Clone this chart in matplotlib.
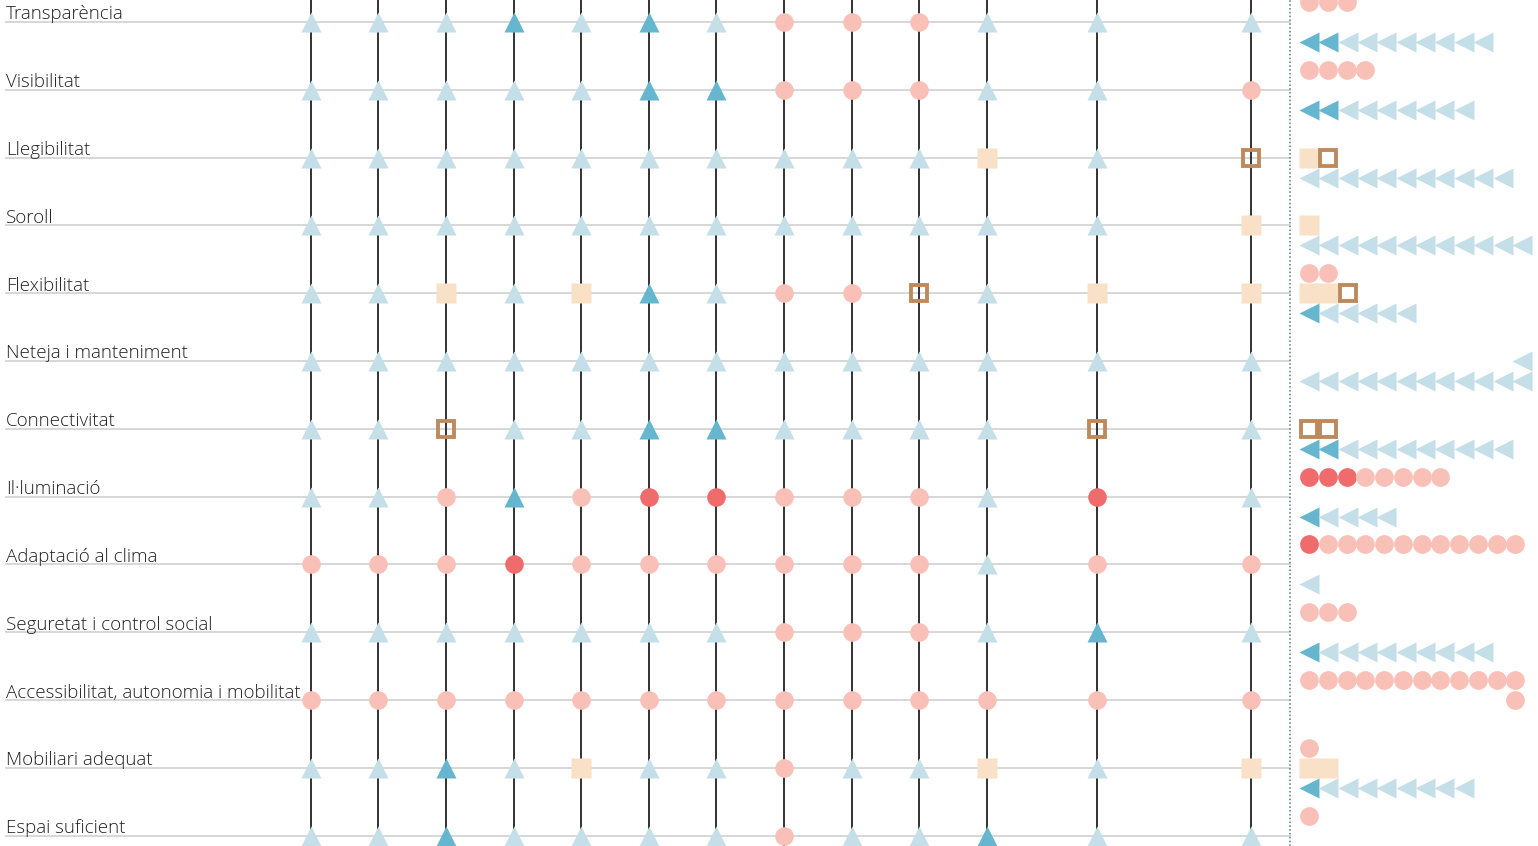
import matplotlib.pyplot as plt

# criteria (rows)
labels = ['Transparència', 'Visibilitat', 'Llegibilitat', 'Soroll', 'Flexibilitat',
          'Neteja i manteniment', 'Connectivitat', 'Il·luminació', 'Adaptació al clima',
          'Seguretat i control social', 'Accessibilitat, autonomia i mobilitat',
          'Mobiliari adequat', 'Espai suficient']

# one code per column:  a = light triangle, A = dark triangle, c = pink circle,
# C = red circle, s = beige square, h = hollow square
grid = ['aaaAaAacccaaa',
        'aaaaaAAcccaac',
        'aaaaaaaaaasah',
        'aaaaaaaaaaaas',
        'aasasAacchass',
        'aaaaaaaaaaaaa',
        'aahaaAAaaaaha',
        'aacAcCCcccaCa',
        'cccCccccccacc',
        'aaaaaaacccaAa',
        'ccccccccccccc',
        'aaAasaacaasas',
        'aaAaaaacaaAaa']

# summary counts on the right
sum_red    = [0, 0, 0, 0, 0, 0, 0, 3, 1, 0, 0, 0, 0]
sum_pink   = [3, 4, 0, 0, 2, 0, 0, 5, 11, 3, 13, 1, 1]
sum_beige  = [0, 0, 1, 1, 2, 0, 0, 0, 0, 0, 0, 2, 0]
sum_hollow = [0, 0, 1, 0, 1, 0, 2, 0, 0, 0, 0, 0, 0]
sum_dark   = [2, 2, 0, 0, 1, 0, 2, 1, 0, 1, 0, 1, 2]
sum_light  = [8, 7, 11, 12, 5, 13, 9, 4, 1, 9, 0, 8, 10]

#-------------------------------------------------------------------------------------------------

LT, DT = '#c4dfe8', '#67b6cf'
PC, RC = '#f9c0b8', '#f06b6c'
BG, HB = '#f8e1c7', '#bd8a5e'

styles = {
    'a': dict(marker='^', ms=13.8, mfc=LT, mec='none'),
    'A': dict(marker='^', ms=13.8, mfc=DT, mec='none'),
    'c': dict(marker='o', ms=13.4, mfc=PC, mec='none'),
    'C': dict(marker='o', ms=13.4, mfc=RC, mec='none'),
    's': dict(marker='s', ms=14.2, mfc=BG, mec='none'),
    'h': dict(marker='s', ms=11.6, mfc='none', mec=HB, mew=2.8),
}

col_x = [311, 378, 446, 514, 581, 649, 716, 784, 852, 919, 987, 1097, 1251]
row_px = 67.8           # pixels per row
off = 20 / row_px       # summary offset (rows)

fig = plt.figure(figsize=(15.38, 8.46), dpi=100)
ax = fig.add_axes([0, 0, 1, 1])
ax.set_xlim(0, 1538)
ax.set_ylim((846 - 22) / row_px, -22 / row_px)
ax.axis('off')

# row lines and labels
for i, lab in enumerate(labels):
    ax.plot([6, 1290], [i, i], color='#d4d4d4', lw=1.3, zorder=1)
    ax.text(6, i - 2.5 / row_px, lab, fontsize=13.5, family=['Open Sans', 'DejaVu Sans'],
            fontweight='light', color='#222222', va='baseline', ha='left')

# column lines
for x in col_x:
    ax.axvline(x, color='#222222', lw=1.3, zorder=2)

ax.axvline(1290, color='#56788a', lw=1.1, ls=(0, (1, 1.5)), zorder=2)

# grid markers
for i, row in enumerate(grid):
    for j, code in enumerate(row):
        ax.plot(col_x[j], i, ls='none', zorder=3, **styles[code])

#-------------------------------------------------------------------------------------------------

def stack(i, codes, step, dy, marker_style):
    for k, code in enumerate(codes):
        if k < 12:
            x, y = 1309 + k * step, i + dy
        else:
            x, y = 1309 + (11 - (k - 12)) * step, i
        st = dict(styles[code])
        st.update(marker_style)
        ax.plot(x, y, ls='none', zorder=3, **st)


for i in range(len(labels)):
    circles = 'C' * sum_red[i] + 'c' * sum_pink[i]
    squares = 's' * sum_beige[i] + 'h' * sum_hollow[i]
    tris = 'A' * sum_dark[i] + 'a' * sum_light[i]
    stack(i, circles, 18.75, -off, dict(ms=13.5))
    stack(i, squares, 19.3, 0, {})
    stack(i, tris, 19.35, off, dict(marker='<', ms=13.9))

fig.savefig('out.png', dpi=100)
